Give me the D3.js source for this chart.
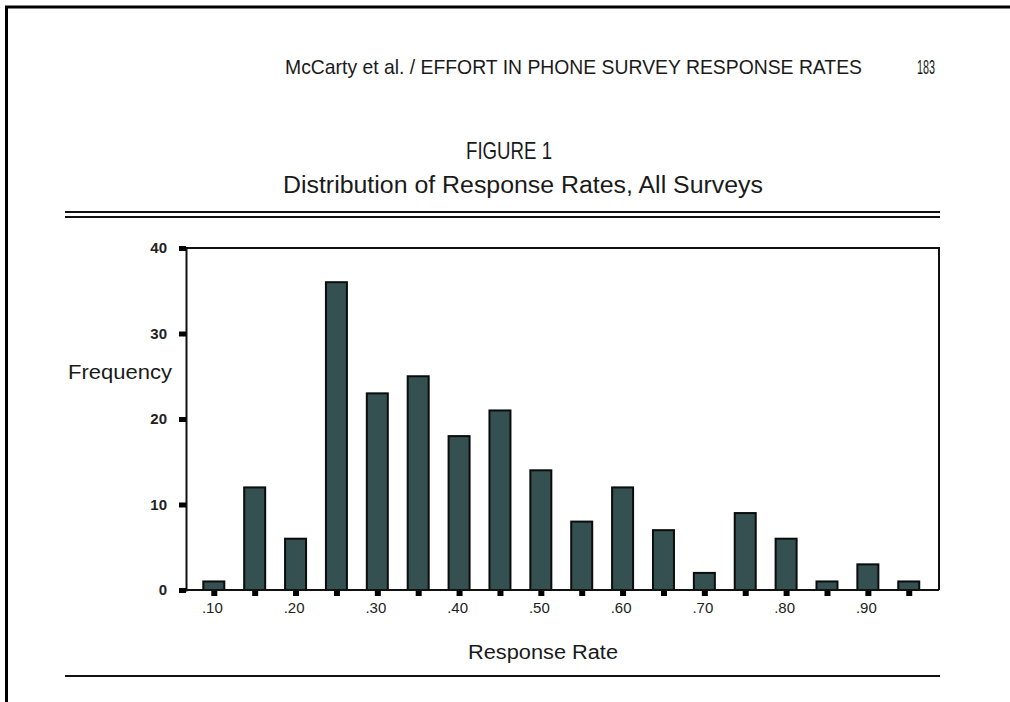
<!DOCTYPE html>
<html>
<head>
<meta charset="utf-8">
<script src="https://cdn.jsdelivr.net/npm/d3@7"></script>
<style>
  html, body { margin: 0; padding: 0; background: #fff; }
  svg { display: block; }
</style>
</head>
<body>
<div id="chart"></div>
<script>
// response rate bins (bar centers) and survey counts
var rates  = [0.10, 0.15, 0.20, 0.25, 0.30, 0.35, 0.40, 0.45, 0.50,
              0.55, 0.60, 0.65, 0.70, 0.75, 0.80, 0.85, 0.90, 0.95];
var counts = [1, 12, 6, 36, 23, 25, 18, 21, 14,
              8, 12, 7, 2, 9, 6, 1, 3, 1];
var yTicks = [0, 10, 20, 30, 40];
var xLabeled = [0.10, 0.20, 0.30, 0.40, 0.50, 0.60, 0.70, 0.80, 0.90];

var width = 1010, height = 702;
var area = { left: 186, top: 248, right: 939, bottom: 590 };
var serif = '"Liberation Sans", Arial, sans-serif';

var svg = d3.select('#chart').append('svg')
  .attr('width', width)
  .attr('height', height);

// page border (scan edge)
svg.append('line')
  .attr('x1', 5).attr('x2', width).attr('y1', 7).attr('y2', 7)
  .attr('stroke', '#000').attr('stroke-width', 3);
svg.append('line')
  .attr('x1', 6.5).attr('x2', 6.5).attr('y1', 6).attr('y2', height)
  .attr('stroke', '#000').attr('stroke-width', 3);

function squeezed(txt, xx, yy, len, size, anchor) {
  return svg.append('text')
    .attr('x', xx).attr('y', yy)
    .attr('text-anchor', anchor || 'start')
    .attr('textLength', len).attr('lengthAdjust', 'spacingAndGlyphs')
    .style('font-family', serif)
    .style('font-size', size + 'px').attr('fill', '#1a1a1a')
    .text(txt);
}

// running head
squeezed('McCarty et al. / EFFORT IN PHONE SURVEY RESPONSE RATES', 285, 74, 577, 21);
squeezed('183', 917, 74, 18, 21);

// figure title
squeezed('FIGURE 1', 466, 159, 86, 24);
squeezed('Distribution of Response Rates, All Surveys', 283, 193, 480, 23);

// rules
[212, 217].forEach(function(yy) {
  svg.append('line')
    .attr('x1', 65).attr('x2', 940).attr('y1', yy).attr('y2', yy)
    .attr('stroke', '#111').attr('stroke-width', 2);
});
svg.append('line')
  .attr('x1', 65).attr('x2', 940).attr('y1', 676).attr('y2', 676)
  .attr('stroke', '#111').attr('stroke-width', 2);

var x = d3.scaleLinear()
  .domain([0.066, 0.987])
  .range([area.left, area.right]);

var y = d3.scaleLinear()
  .domain([0, 40])
  .range([area.bottom, area.top]);

var chart = svg.append('g').attr('class', 'chart');

// frame: top and right
chart.append('path')
  .attr('d', 'M' + area.left + ',' + area.top + 'H' + area.right + 'V' + area.bottom)
  .attr('fill', 'none').attr('stroke', '#111').attr('stroke-width', 2);

// bars
var barW = 21;
chart.append('g').selectAll('rect')
  .data(rates)
  .enter().append('rect')
    .attr('x', function(d) { return x(d) - barW / 2; })
    .attr('y', function(d, i) { return y(counts[i]); })
    .attr('width', barW)
    .attr('height', function(d, i) { return y(0) - y(counts[i]); })
    .attr('fill', '#345050')
    .attr('stroke', '#0c0c0c')
    .attr('stroke-width', 2);

// y axis
var yAxis = d3.axisLeft(y)
  .tickValues(yTicks)
  .tickSize(7)
  .tickPadding(12)
  .tickFormat(d3.format('d'));

var gy = chart.append('g')
  .attr('transform', 'translate(' + area.left + ',0)')
  .call(yAxis);
gy.select('.domain').attr('stroke', '#111').attr('stroke-width', 2);
gy.selectAll('.tick line').attr('stroke', '#000').attr('stroke-width', 5);
gy.selectAll('.tick text')
  .style('font-family', serif)
  .style('font-size', '15px').style('font-weight', 'bold').attr('fill', '#222');

// x axis
var fmt = d3.format('.2f');
var xAxis = d3.axisBottom(x)
  .tickValues(rates)
  .tickSize(6)
  .tickPadding(6)
  .tickFormat(function(d) {
    var lab = xLabeled.some(function(v) { return Math.abs(v - d) < 1e-9; });
    return lab ? fmt(d).replace(/^0/, '') : '';
  });

var gx = chart.append('g')
  .attr('transform', 'translate(0,' + area.bottom + ')')
  .call(xAxis);
gx.select('.domain').attr('stroke', '#111').attr('stroke-width', 2)
  .attr('d', 'M' + area.left + ',0H' + area.right);
gx.selectAll('.tick line').attr('stroke', '#000').attr('stroke-width', 6)
  .attr('y1', 1).attr('y2', 6);
gx.selectAll('.tick text')
  .style('font-family', serif)
  .style('font-size', '15px').attr('fill', '#222')
  .attr('dx', -2);

// axis titles
squeezed('Frequency', 68, 379, 104, 20);
squeezed('Response Rate', 468, 659, 150, 20);
</script>
</body>
</html>
